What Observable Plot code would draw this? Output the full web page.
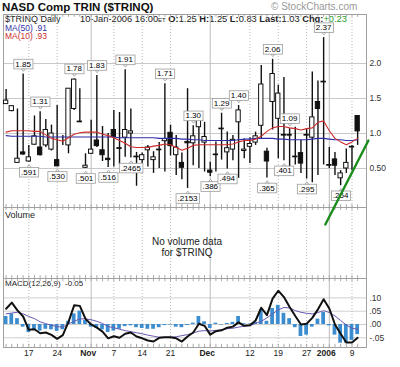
<!DOCTYPE html>
<html><head><meta charset="utf-8">
<script src="https://cdn.jsdelivr.net/npm/d3@7"></script>
<script src="https://cdn.jsdelivr.net/npm/@observablehq/plot@0.6"></script>
<style>
body{margin:0;background:#fff;}
#c{position:relative;width:400px;height:367px;overflow:hidden;font-family:Arial,"Liberation Sans",sans-serif;background:#fff;}
.abs{position:absolute;white-space:nowrap;line-height:1;}
.p{position:absolute;left:0;}
</style></head><body><div id="c"></div>
<script>
// ---------- DATA ----------
const days = ["2005-10-11","2005-10-12","2005-10-13","2005-10-14","2005-10-17","2005-10-18","2005-10-19","2005-10-20","2005-10-21","2005-10-24","2005-10-25","2005-10-26","2005-10-27","2005-10-28","2005-10-31",
"2005-11-01","2005-11-02","2005-11-03","2005-11-04","2005-11-07","2005-11-08","2005-11-09","2005-11-10","2005-11-11","2005-11-14","2005-11-15","2005-11-16","2005-11-17","2005-11-18","2005-11-21","2005-11-22","2005-11-23","2005-11-25","2005-11-28","2005-11-29","2005-11-30",
"2005-12-01","2005-12-02","2005-12-05","2005-12-06","2005-12-07","2005-12-08","2005-12-09","2005-12-12","2005-12-13","2005-12-14","2005-12-15","2005-12-16","2005-12-19","2005-12-20","2005-12-21","2005-12-22","2005-12-23","2005-12-27","2005-12-28","2005-12-29","2005-12-30",
"2006-01-03","2006-01-04","2006-01-05","2006-01-06","2006-01-09","2006-01-10"];
const open  = [1.42,1.32,0.58,0.73,0.60,0.84,0.80,0.83,0.77,0.62,0.90,0.83,1.35,1.17,0.51,0.71,0.90,0.76,0.64,1.05,0.79,0.94,1.00,0.67,0.62,0.76,0.62,0.77,0.89,1.01,0.69,0.58,0.88,0.86,1.09,0.87,0.47,0.70,1.07,0.73,0.77,1.16,0.75,0.81,0.87,1.11,0.74,1.45,1.21,0.98,0.98,0.67,0.72,0.98,0.94,1.45,1.74,0.55,0.63,0.36,0.50,0.81,1.25];
const high  = [1.63,1.40,1.35,1.85,0.83,1.25,1.31,1.20,1.12,1.40,0.97,1.64,1.78,1.64,0.71,1.19,1.83,1.10,1.00,1.33,1.30,1.91,1.35,0.73,0.72,0.83,0.74,0.87,1.71,1.12,0.97,0.72,1.64,1.11,1.30,1.16,0.59,0.88,1.29,1.02,0.97,1.40,0.92,0.94,1.02,1.97,0.79,2.06,1.69,1.80,1.07,1.09,0.90,1.06,1.88,1.75,2.37,0.80,0.73,0.47,0.78,0.83,1.25];
const low   = [1.42,1.31,0.58,0.69,0.591,0.83,0.68,0.80,0.75,0.53,0.83,0.71,1.33,1.16,0.501,0.70,0.80,0.60,0.516,0.52,0.55,0.66,0.65,0.2465,0.57,0.52,0.43,0.50,0.45,0.68,0.40,0.34,0.2153,0.54,0.50,0.45,0.386,0.45,0.62,0.494,0.61,0.36,0.64,0.57,0.83,0.92,0.365,1.05,0.64,0.61,0.401,0.55,0.43,0.35,0.295,0.40,0.55,0.50,0.40,0.254,0.43,0.47,0.83];
const close = [1.47,1.39,0.64,0.70,0.66,0.96,0.69,1.05,1.00,0.53,0.90,1.64,1.77,1.16,0.54,0.77,0.82,0.69,0.62,0.95,0.78,1.05,1.03,0.66,0.69,0.80,0.66,0.76,0.92,0.82,0.80,0.51,0.86,0.96,1.29,0.95,0.44,0.69,1.06,0.79,0.91,1.33,0.77,0.85,0.96,1.70,0.60,1.85,1.57,0.97,0.97,0.66,0.57,0.97,1.23,1.35,1.73,0.54,0.54,0.43,0.58,0.80,1.03];
const ma10  = [1.02,1.04,1.04,1.04,1.04,1.03,1.03,0.98,0.93,0.91,0.89,0.94,0.99,1.01,1.02,1.02,1.02,0.99,0.97,0.94,0.90,0.86,0.81,0.80,0.80,0.80,0.82,0.83,0.85,0.84,0.80,0.76,0.79,0.83,0.84,0.84,0.84,0.84,0.84,0.84,0.85,0.88,0.90,0.90,0.92,0.96,1.03,1.08,1.10,1.10,1.08,1.07,1.05,1.07,1.08,1.16,1.18,1.04,0.93,0.88,0.84,0.88,0.93];
const ma50  = [0.97,0.96,0.96,0.96,0.96,0.96,0.96,0.95,0.95,0.95,0.95,0.95,0.95,0.95,0.95,0.95,0.95,0.95,0.95,0.95,0.94,0.94,0.94,0.94,0.94,0.94,0.94,0.93,0.93,0.93,0.93,0.92,0.92,0.91,0.91,0.90,0.90,0.90,0.90,0.90,0.90,0.91,0.92,0.92,0.93,0.93,0.93,0.93,0.92,0.92,0.91,0.91,0.91,0.91,0.92,0.93,0.93,0.92,0.91,0.91,0.90,0.90,0.91];
const macd  = [0.059,0.082,0.053,0.030,-0.020,-0.018,-0.033,-0.030,-0.039,-0.054,-0.040,0.010,0.072,0.070,0.021,0.000,-0.012,-0.027,-0.052,-0.044,-0.050,-0.035,-0.030,-0.045,-0.052,-0.060,-0.064,-0.050,-0.048,-0.048,-0.052,-0.064,-0.045,-0.030,0.003,-0.005,-0.038,-0.025,-0.022,-0.012,-0.008,0.008,-0.005,-0.003,0.015,0.063,0.035,0.097,0.127,0.103,0.066,0.032,0.000,0.003,0.025,0.057,0.095,0.060,0.000,-0.035,-0.068,-0.068,-0.050];
const signal= [0.040,0.043,0.046,0.040,0.030,0.022,0.010,0.003,-0.003,-0.008,-0.010,0.002,0.012,0.021,0.021,0.018,0.012,0.004,-0.008,-0.012,-0.018,-0.023,-0.027,-0.031,-0.035,-0.040,-0.044,-0.048,-0.048,-0.048,-0.046,-0.042,-0.038,-0.032,-0.025,-0.023,-0.024,-0.022,-0.020,-0.016,-0.014,-0.010,-0.006,-0.004,0.004,0.012,0.025,0.040,0.055,0.064,0.062,0.052,0.046,0.042,0.040,0.045,0.052,0.045,0.032,0.015,-0.002,-0.014,-0.018];
const hist  = [0.030,0.040,0.022,-0.010,-0.030,-0.020,-0.025,-0.018,-0.020,-0.026,-0.020,0.012,0.040,0.050,0.015,-0.010,-0.015,-0.020,-0.030,-0.025,-0.018,-0.008,-0.005,-0.012,-0.015,-0.018,-0.018,-0.012,-0.004,-0.002,-0.010,-0.012,-0.004,0.005,0.030,0.010,-0.015,0.005,-0.002,0.004,0.008,0.030,0.003,0.002,0.008,0.055,0.012,0.060,0.072,0.042,0.022,-0.012,-0.045,-0.040,-0.010,0.020,0.045,-0.005,-0.040,-0.070,-0.070,-0.060,-0.038];
const highLabelDays = ["2005-10-14","2005-10-19","2005-10-27","2005-11-02","2005-11-09","2005-11-18","2005-11-28","2005-12-05","2005-12-08","2005-12-16","2005-12-21","2005-12-30"];
const highLabelText = ["1.85","1.31","1.78","1.83","1.91","1.71","1.30","1.29","1.40","2.06","1.09","2.37"];
const lowLabelDays  = ["2005-10-17","2005-10-24","2005-10-31","2005-11-04","2005-11-10","2005-11-25","2005-12-01","2005-12-06","2005-12-15","2005-12-20","2005-12-27","2006-01-05"];
const lowLabelText  = [".591",".530",".501",".516",".2465",".2153",".386",".494",".365",".401",".295",".254"];
const tickDays   = ["2005-10-17","2005-10-24","2005-11-01","2005-11-07","2005-11-14","2005-11-21","2005-12-01","2005-12-12","2005-12-19","2005-12-27","2006-01-03","2006-01-09"];
const tickLabels = ["17","24","Nov","7","14","21","Dec","12","19","27","2006","9"];
const monthDays  = ["2005-11-01","2005-12-01","2006-01-03"];
const priceTicks = [0.5,1,1.5,2];
const macdTicks  = [-0.05,0,0.05,0.10];
const trendLine  = [{x:56.3,y:-0.30},{x:63.9,y:0.90}]; // hand-drawn green trendline (day position, TRIN value)

// ---------- build ----------
const pos = d => days.indexOf(d);
const bars = days.map((d,i)=>({p:i,o:open[i],h:high[i],l:low[i],c:close[i],m10:ma10[i],m50:ma50[i],macd:macd[i],sig:signal[i],hist:hist[i]}));
const hiL = highLabelDays.map((d,k)=>({p:pos(d),v:high[pos(d)],t:highLabelText[k]}));
const loL = lowLabelDays.map((d,k)=>({p:pos(d),v:low[pos(d)],t:lowLabelText[k]}));
const ticks = tickDays.map((d,k)=>({p:pos(d),t:tickLabels[k],bold:monthDays.includes(d)}));
const weekGrid = ticks.filter(d=>!d.bold).map(d=>d.p);
const monthGrid = monthDays.map(pos);

const FONT = 'Arial, "Liberation Sans", sans-serif';
const xDom = [-0.462, 63.56];
const common = {width:400, marginLeft:3, marginRight:34, x:{domain:xDom, axis:null}};
const gridMarks = (yMin, yMax, dy) => [
  Plot.ruleX(weekGrid, {stroke:"#b8b8b8", strokeDasharray:"1,2"}),
  Plot.ruleX(monthGrid, {stroke:"#bcbcbc"}),
  Plot.ruleX(bars, {x:"p", y1:yMin, y2:yMin+dy, stroke:"#aaa"}),
  Plot.ruleX(bars, {x:"p", y1:yMax, y2:yMax-dy, stroke:"#aaa"})
];

const c = document.getElementById("c");
function add(el, top, z){ const w=document.createElement("div"); w.className="p"; w.style.top=top+"px"; w.style.zIndex=z; w.appendChild(el); c.appendChild(w); return el; }
function txt(html, css){ const d=document.createElement("div"); d.className="abs"; d.innerHTML=html; Object.assign(d.style, css); c.appendChild(d); return d; }

// main price panel
const yMain=[-0.0571,2.7];
const main = Plot.plot({...common, height:193, marginTop:0, marginBottom:0,
  y:{domain:yMain, axis:"right", ticks:priceTicks, tickSize:0, tickPadding:3, label:null, tickFormat:d=>d===0.5?"0.50":d.toFixed(1)},
  style:{background:"transparent", overflow:"visible", fontFamily:FONT, fontSize:"8.5px", color:"#333"},
  marks:[
    Plot.ruleY(priceTicks, {stroke:"#c9c9c9"}),
    ...gridMarks(yMain[0], yMain[1], 0.04),
    Plot.frame({stroke:"#a0a0a0"}),
    Plot.ruleX(bars, {x:"p", y1:"l", y2:"h", stroke:"#111", strokeWidth:1.4}),
    Plot.rect(bars, {x1:d=>d.p-0.38, x2:d=>d.p+0.38, y1:"o", y2:"c", fill:d=>d.c>=d.o?"white":"#111", stroke:"#111", strokeWidth:1}),
    Plot.line(bars, {x:"p", y:"m50", stroke:"#2c2ca8", strokeWidth:1.1}),
    Plot.line(bars, {x:"p", y:"m10", stroke:"#cc2b2b", strokeWidth:1.1}),
    Plot.text(hiL, {x:"p", y:"v", text:"t", dy:-10, fontSize:8, fill:"#000001"}),
    Plot.text(loL, {x:"p", y:"v", text:"t", dy:10, fontSize:8, fill:"#000002"}),
    Plot.line(trendLine, {x:"x", y:"y", stroke:"#1c8c1c", strokeWidth:2.4})
  ]});
add(main, 14, 3);

// volume panel
const vol = Plot.plot({...common, height:71, marginTop:0, marginBottom:0,
  y:{domain:[0,1], axis:null},
  style:{background:"transparent", fontFamily:FONT},
  marks:[
    ...gridMarks(0, 1, 0.04),
    Plot.frame({stroke:"#a0a0a0"}),
    Plot.text(["No volume data\nfor $TRINQ"], {frameAnchor:"middle", dx:2, dy:4, fontSize:10, lineHeight:1.1, fill:"#222"})
  ]});
add(vol, 207, 1);

// MACD panel
const yM=[-0.0865,0.1729];
const mfmt = d => d===0 ? ".00" : (d<0?"-":"") + d3.format(".2f")(Math.abs(d)).replace(/^0/,"");
const mac = Plot.plot({...common, height:89, marginTop:0, marginBottom:20,
  y:{domain:yM, axis:"right", ticks:macdTicks, tickSize:0, tickPadding:3, label:null, tickFormat:mfmt},
  style:{background:"transparent", overflow:"visible", fontFamily:FONT, fontSize:"8.5px", color:"#333"},
  marks:[
    Plot.ruleY(macdTicks, {stroke:"#cfcfcf"}),
    ...gridMarks(yM[0], yM[1], 0.012),
    Plot.frame({stroke:"#a0a0a0"}),
    Plot.rect(bars, {x1:d=>d.p-0.33, x2:d=>d.p+0.33, y1:0, y2:"hist", fill:"#3b8dcf"}),
    Plot.line(bars, {x:"p", y:"sig", stroke:"#6a58b0", strokeWidth:1}),
    Plot.line(bars, {x:"p", y:"macd", stroke:"#111", strokeWidth:2}),
    Plot.text(ticks.filter(d=>!d.bold), {x:"p", text:"t", frameAnchor:"bottom", dy:8.5, fontSize:8.5, fill:"#222"}),
    Plot.text(ticks.filter(d=>d.bold), {x:"p", text:"t", frameAnchor:"bottom", dy:8.5, dx:-3, fontSize:8.5, fontWeight:"bold", fill:"#222"})
  ]});
add(mac, 278, 1);

// boxes round the high / low labels
const NS="http://www.w3.org/2000/svg";
function boxes(key, up){
  main.querySelectorAll(`g[fill="${key}"] text`).forEach(t=>{
    const b=t.getBBox(), tr=t.getAttribute("transform");
    const r=document.createElementNS(NS,"rect");
    const x=b.x-1.5, y=b.y-0.3, w=b.width+3, h=b.height+0.6;
    Object.entries({x,y,width:w,height:h,fill:"white",stroke:"#9c9c9c","stroke-width":0.8}).forEach(([k,v])=>r.setAttribute(k,v));
    const pg=document.createElementNS(NS,"polygon");
    const cx=x+w/2, yy= up? y : y+h, s= up? -2.5 : 2.5;
    pg.setAttribute("points", `${cx-2},${yy} ${cx+2},${yy} ${cx},${yy+s}`);
    pg.setAttribute("fill","white"); pg.setAttribute("stroke","#9c9c9c"); pg.setAttribute("stroke-width",0.8);
    if(tr){ r.setAttribute("transform",tr); pg.setAttribute("transform",tr); }
    t.parentNode.insertBefore(pg,t); t.parentNode.insertBefore(r,t);
  });
}
boxes("#000001", false);
boxes("#000002", true);

// header texts
txt("NASD Comp TRIN ($TRINQ)", {left:"2px", top:"2px", fontSize:"11.5px", fontWeight:"bold", color:"#111"});
txt("&copy; StockCharts.com", {left:"271px", top:"2px", fontSize:"10px", color:"#9a9a9a"});
txt("$TRINQ Daily", {left:"5px", top:"14.5px", fontSize:"9px", color:"#222"});
txt('10-Jan-2006 16:00<span style="font-size:6px">ET</span> <b>O:</b>1.25 <b>H:</b>1.25 <b>L:</b>0.83 <b>Last:</b>1.03 <b>Chg:</b><span style="color:#2a9a2a">+0.23</span>', {left:"80px", top:"14.5px", fontSize:"9.3px", color:"#222"});
txt("MA(50) .91", {left:"5px", top:"23.5px", fontSize:"8.5px", color:"#3434a8"});
txt("MA(10) .93", {left:"5px", top:"32px", fontSize:"8.5px", color:"#cc2b2b"});
txt("Volume", {left:"5px", top:"211px", fontSize:"9px", color:"#222"});
txt("MACD(12,26,9) &nbsp;-0.05", {left:"5px", top:"280px", fontSize:"8px", color:"#222"});
</script></body></html>
